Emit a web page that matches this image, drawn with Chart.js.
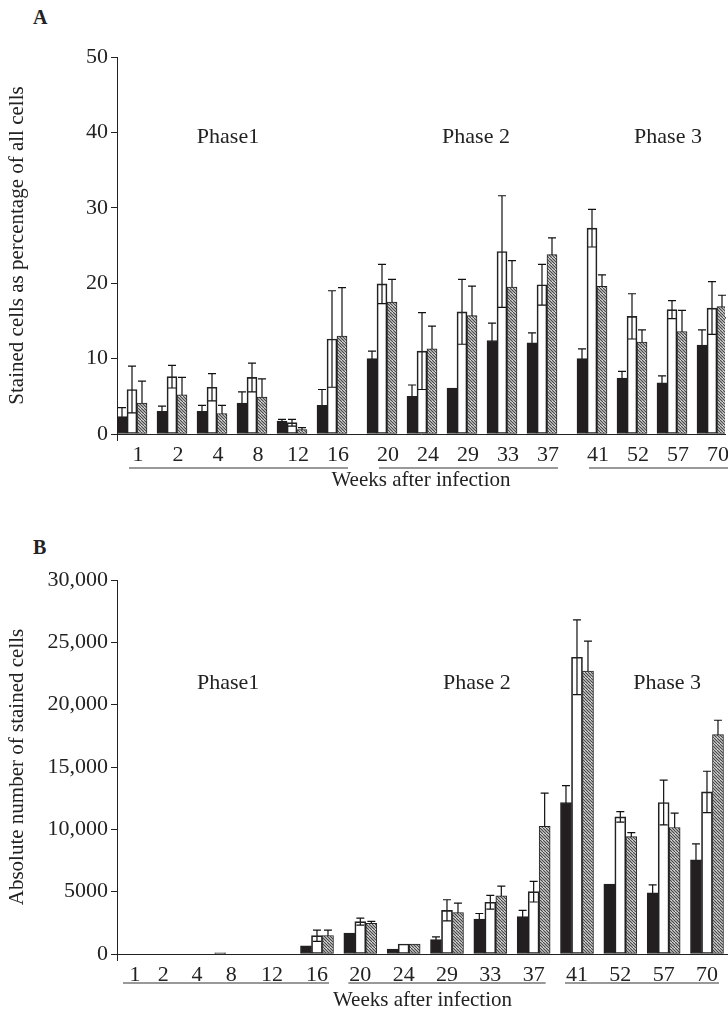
<!DOCTYPE html>
<html>
<head>
<meta charset="utf-8">
<script src="https://cdn.jsdelivr.net/npm/chart.js@4.4.1/dist/chart.umd.min.js"></script>
<style>
  body { margin: 0; background: #fff; width: 728px; height: 1013px; overflow: hidden; position: relative; font-family: 'Liberation Serif', serif; color: #222; }
  .panel { position: absolute; left: 33px; font-weight: bold; font-size: 20px; }
  .wrap { position: absolute; left: 0; width: 728px; }
</style>
</head>
<body>
<div class="panel" style="top:6px">A</div>
<div class="panel" style="top:536px">B</div>
<div class="wrap" style="top:0;height:510px"><canvas id="chartA"></canvas></div>
<div class="wrap" style="top:510px;height:503px"><canvas id="chartB"></canvas></div>
<script>
// weeks after infection, and which phase each one belongs to
const weeks = ['1', '2', '4', '8', '12', '16', '20', '24', '29', '33', '37', '41', '52', '57', '70']
const phaseOf = [0, 0, 0, 0, 0, 0, 1, 1, 1, 1, 1, 2, 2, 2, 2]
const phaseNames = ['Phase1', 'Phase 2', 'Phase 3']

// A: stained cells, % of all cells
const blackA = [2.3, 3.0, 3.0, 4.1, 1.7, 3.8, 10.0, 5.0, 6.1, 12.4, 12.1, 10.0, 7.4, 6.8, 11.8]
const blackErrA = [1.2, 0.7, 0.8, 1.5, 0.25, 2.1, 1.0, 1.5, 0, 2.3, 1.3, 1.3, 0.9, 0.9, 2.0]
const whiteA = [5.9, 7.6, 6.2, 7.5, 1.5, 12.6, 19.9, 11.0, 16.2, 24.2, 19.8, 27.3, 15.6, 16.5, 16.7]
const whiteErrA = [3.1, 1.5, 1.8, 1.9, 0.45, 6.4, 2.6, 5.1, 4.3, 7.4, 2.7, 2.5, 3.0, 1.2, 3.5]
const hatchA = [4.1, 5.2, 2.7, 4.9, 0.6, 13.0, 17.5, 11.3, 15.7, 19.5, 23.8, 19.6, 12.2, 13.6, 16.9]
const hatchErrA = [2.9, 2.3, 1.1, 2.4, 0.25, 6.4, 3.0, 3.0, 3.9, 3.5, 2.2, 1.5, 1.6, 2.8, 1.5]
const yTicksA = [0, 10, 20, 30, 40, 50]

// B: absolute number of stained cells
const blackB = [0, 0, 0, 100, 0, 650, 1680, 400, 1150, 2800, 3000, 12150, 5600, 4900, 7550]
const blackErrB = [0, 0, 0, 0, 0, 0, 0, 0, 220, 450, 500, 1350, 0, 650, 1280]
const whiteB = [0, 0, 0, 0, 0, 1470, 2600, 800, 3500, 4150, 5000, 23800, 11000, 12150, 13000]
const whiteErrB = [0, 0, 0, 0, 0, 450, 280, 0, 850, 550, 830, 3000, 420, 1800, 1660]
const hatchB = [0, 0, 0, 0, 0, 1470, 2460, 800, 3330, 4670, 10250, 22700, 9420, 10150, 17600]
const hatchErrB = [0, 0, 0, 0, 0, 450, 160, 0, 750, 780, 2650, 2400, 320, 1150, 1150]
const yTicksB = [0, 5000, 10000, 15000, 20000, 25000, 30000]

// where each week group sits along the x axis (slot units)
const slotsA = [0, 1, 2, 3, 4, 5, 6.25, 7.25, 8.25, 9.25, 10.25, 11.5, 12.5, 13.5, 14.5]
const slotsB = [-4.2, -3.55, -2.77, -1.98, -1.04, 0, 1, 2, 3, 4, 5, 6, 7, 8, 9]

const ink = '#222'
const serif = 'Liberation Serif'

function hatchPattern () {
  const c = document.createElement('canvas')
  c.width = 6
  c.height = 6
  const g = c.getContext('2d')
  g.fillStyle = '#fff'
  g.fillRect(0, 0, 6, 6)
  g.strokeStyle = '#4a4a4a'
  g.lineWidth = 1.3
  g.beginPath()
  for (let k = -6; k <= 6; k += 3) {
    g.moveTo(k, 0)
    g.lineTo(k + 6, 6)
  }
  g.stroke()
  return g.createPattern(c, 'repeat')
}

// whiskers go in before the bars so solid fills hide the lower half
const errorBars = {
  id: 'errorBars',
  beforeDatasetsDraw (chart) {
    const { ctx } = chart
    const y = chart.scales.y
    ctx.save()
    ctx.strokeStyle = '#111'
    ctx.lineWidth = 1.2
    chart.data.datasets.forEach((ds, i) => {
      chart.getDatasetMeta(i).data.forEach((bar, j) => {
        const err = ds.errors[j]
        if (!err) return
        const v = ds.data[j].y
        const top = y.getPixelForValue(v + err)
        const bot = y.getPixelForValue(Math.max(v - err, 0))
        ctx.beginPath()
        ctx.moveTo(bar.x, top)
        ctx.lineTo(bar.x, bot)
        ctx.moveTo(bar.x - 4, top)
        ctx.lineTo(bar.x + 4, top)
        ctx.moveTo(bar.x - 4, bot)
        ctx.lineTo(bar.x + 4, bot)
        ctx.stroke()
      })
    })
    ctx.restore()
  }
}

const phaseMarks = {
  id: 'phaseMarks',
  afterDraw (chart, args, opts) {
    const { ctx, chartArea } = chart
    const x = chart.scales.x
    const y = chart.scales.y
    ctx.save()
    ctx.font = '22px "' + serif + '"'
    ctx.fillStyle = ink
    ctx.textAlign = 'center'
    ctx.textBaseline = 'middle'
    phaseNames.forEach((t, p) => {
      ctx.fillText(t, x.getPixelForValue(opts.labelX[p]), y.getPixelForValue(opts.labelY))
    })

    // underline under each phase's week labels
    ctx.strokeStyle = '#777'
    ctx.lineWidth = 1.5
    phaseNames.forEach((t, p) => {
      const idx = phaseOf.map((q, i) => q === p ? i : -1).filter(i => i >= 0)
      const a = x.getPixelForValue(opts.slots[idx[0]]) + opts.lineStart
      const b = Math.min(x.getPixelForValue(opts.slots[idx[idx.length - 1]]) + opts.lineEnd, chart.width)
      const ly = chartArea.bottom + opts.lineDrop
      ctx.beginPath()
      ctx.moveTo(a, ly)
      ctx.lineTo(b, ly)
      ctx.stroke()
    })

    // y axis runs a little below zero
    ctx.strokeStyle = ink
    ctx.lineWidth = 1
    ctx.beginPath()
    ctx.moveTo(chartArea.left + 0.5, chartArea.bottom)
    ctx.lineTo(chartArea.left + 0.5, chartArea.bottom + 7)
    ctx.stroke()
    ctx.restore()
  }
}

function makeChart (id, s) {
  const pts = vals => vals.map((v, i) => ({ x: s.slots[i], y: v }))
  const font = { family: serif, size: 22 }
  const titleFont = { family: serif, size: 21 }
  const common = { barThickness: s.bar, borderColor: ink, borderWidth: 1, borderSkipped: false }

  return new Chart(document.getElementById(id), {
    type: 'bar',
    data: {
      datasets: [
        { ...common, data: pts(s.black), errors: s.blackErr, backgroundColor: '#231f20' },
        { ...common, data: pts(s.white), errors: s.whiteErr, backgroundColor: 'rgba(255,255,255,0)' },
        { ...common, data: pts(s.hatch), errors: s.hatchErr, backgroundColor: hatchPattern() }
      ]
    },
    options: {
      responsive: true,
      maintainAspectRatio: false,
      animation: false,
      layout: { padding: s.padding },
      plugins: {
        legend: { display: false },
        tooltip: { enabled: false },
        phaseMarks: {
          slots: s.slots,
          labelX: s.phaseX,
          labelY: s.phaseY,
          lineStart: s.lineStart,
          lineEnd: s.lineEnd,
          lineDrop: s.lineDrop
        }
      },
      scales: {
        x: {
          type: 'linear',
          min: s.xMin,
          max: s.xMax,
          offset: false,
          grid: { display: false, drawTicks: false },
          border: { display: true, color: ink, width: 1 },
          // week labels sit a touch right of their bar groups in panel A
          afterBuildTicks: scale => { scale.ticks = s.slots.map(v => ({ value: v + s.labelShift })) },
          afterFit: scale => {
            scale.height = s.xHeight
            scale.paddingLeft = 0
            scale.paddingRight = 0
          },
          ticks: {
            autoSkip: false,
            maxRotation: 0,
            padding: 8,
            color: ink,
            font,
            callback: (v, i) => weeks[i]
          },
          title: {
            display: true,
            text: 'Weeks after infection',
            color: ink,
            font: titleFont,
            padding: { top: 0, bottom: s.titlePad }
          }
        },
        y: {
          min: 0,
          max: s.yTicks[s.yTicks.length - 1],
          afterBuildTicks: scale => { scale.ticks = s.yTicks.map(v => ({ value: v })) },
          afterFit: scale => { scale.width = 117 },
          grid: { drawOnChartArea: false, drawTicks: true, tickLength: 6, color: ink },
          border: { display: true, color: ink, width: 1 },
          ticks: {
            padding: 3,
            color: ink,
            font,
            callback: v => v >= 10000 ? v.toLocaleString('en-US') : String(v)
          },
          title: {
            display: true,
            text: s.yTitle,
            color: ink,
            font: titleFont,
            padding: { top: 5, bottom: 0 }
          }
        }
      }
    },
    plugins: [errorBars, phaseMarks]
  })
}

makeChart('chartA', {
  slots: slotsA,
  black: blackA, blackErr: blackErrA,
  white: whiteA, whiteErr: whiteErrA,
  hatch: hatchA, hatchErr: hatchErrA,
  yTicks: yTicksA,
  yTitle: 'Stained cells as percentage of all cells',
  bar: 10,
  labelShift: 0.15,
  xMin: -0.375,
  xMax: 14.825,
  xHeight: 76,
  titlePad: 17,
  padding: { top: 57, right: 3, bottom: 0, left: 0 },
  phaseX: [2.4, 8.6, 13.4],
  phaseY: 39.3,
  lineStart: -3,
  lineEnd: 16,
  lineDrop: 34
})

makeChart('chartB', {
  slots: slotsB,
  black: blackB, blackErr: blackErrB,
  white: whiteB, whiteErr: whiteErrB,
  hatch: hatchB, hatchErr: hatchErrB,
  yTicks: yTicksB,
  yTitle: 'Absolute number of stained cells',
  bar: 11,
  labelShift: 0,
  xMin: -4.615,
  xMax: 9.485,
  xHeight: 59,
  titlePad: 0,
  padding: { top: 70, right: 0, bottom: 0, left: 0 },
  phaseX: [-2.05, 3.69, 8.08],
  phaseY: 21700,
  lineStart: -12,
  lineEnd: 12,
  lineDrop: 29
})
</script>
</body>
</html>
